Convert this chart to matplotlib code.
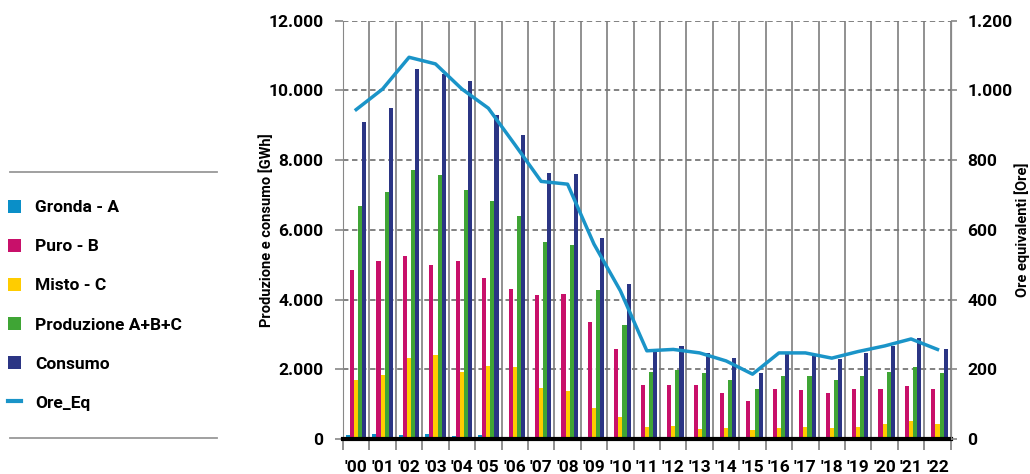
import numpy as np
import matplotlib
matplotlib.use("Agg")
import matplotlib.pyplot as plt
from matplotlib.patches import Patch
from matplotlib.lines import Line2D
from matplotlib.ticker import FuncFormatter, FixedLocator

plt.rcParams['font.family'] = ['Roboto', 'DejaVu Sans']
plt.rcParams['font.weight'] = 'bold'
plt.rcParams['axes.labelweight'] = 'bold'

anni = ["'00", "'01", "'02", "'03", "'04", "'05", "'06", "'07", "'08", "'09", "'10", "'11",
        "'12", "'13", "'14", "'15", "'16", "'17", "'18", "'19", "'20", "'21", "'22"]
gronda = [115, 130, 115, 130, 100, 108, 40, 20, 15, 15, 15, 10, 10, 10, 15, 10, 10, 10, 10, 10, 10, 10, 10]
puro = [4855, 5104, 5247, 4998, 5095, 4616, 4292, 4120, 4149, 3355, 2581, 1539,
        1549, 1549, 1319, 1099, 1434, 1415, 1329, 1434, 1434, 1510, 1424]
misto = [1683, 1835, 2323, 2418, 1921, 2084, 2065, 1462, 1376, 880, 631, 344,
         364, 296, 325, 268, 325, 354, 325, 344, 430, 516, 421]
produzione = [6672, 7083, 7713, 7570, 7140, 6834, 6394, 5640, 5572, 4282, 3269, 1921,
              1970, 1884, 1692, 1424, 1806, 1806, 1692, 1816, 1921, 2074, 1884]
consumo = [9099, 9482, 10618, 10457, 10266, 9281, 8708, 7618, 7589, 5763, 4435, 2523,
           2676, 2475, 2314, 1893, 2447, 2447, 2294, 2457, 2657, 2906, 2571]
ore_eq = [945, 1004, 1095, 1076, 1004, 949, 845, 739, 731, 559, 425, 253,
          257, 247, 224, 186, 247, 247, 232, 251, 267, 287, 257]

nomi = ["Gronda - A", "Puro - B", "Misto - C", "Produzione A+B+C", "Consumo"]
colori = ["#0a8fc8", "#c8106a", "#ffcc00", "#3fa535", "#2b3584"]
col_linea = "#1a94c8"

fig = plt.figure(figsize=(10.3, 4.74), dpi=100)
ax = fig.add_axes([0.333, 0.0738, 0.590, 0.8826])

x = np.arange(len(anni))
w = 0.155
serie = [gronda, puro, misto, produzione, consumo]
for i, s in enumerate(serie):
    ax.bar(x + (i - 2) * w, s, width=w, color=colori[i], zorder=3)

migliaia = FuncFormatter(lambda v, p: f"{int(v):,}".replace(",", "."))

ax.set_xlim(-0.5, len(anni) - 0.5)
ax.set_ylim(0, 12000)
ax.set_yticks(np.arange(0, 12001, 2000))
ax.yaxis.set_major_formatter(migliaia)
ax.set_xticks(x)
ax.set_xticklabels(anni)
ax.xaxis.set_minor_locator(FixedLocator(np.arange(-0.5, len(anni), 1)))
ax.tick_params(axis='x', which='major', length=0, pad=15, labelsize=12.5)
ax.tick_params(axis='x', which='minor', length=8, width=1.3, color='#888888')
ax.tick_params(axis='y', length=6, width=1.2, color='#888888', labelsize=12.5, pad=8)
ax.grid(axis='y', which='major', linestyle=(0, (3, 2)), color='#777777', linewidth=1.3)
ax.grid(axis='x', which='minor', linestyle='-', color='#888888', linewidth=1.3)
ax.set_axisbelow(True)
ax.spines['top'].set_visible(False)
ax.spines['left'].set_color('#888888')
ax.spines['right'].set_color('#888888')
ax.spines['bottom'].set_color('black')
ax.spines['bottom'].set_linewidth(3)
ax.spines['bottom'].set_zorder(5)
ax.set_ylabel("Produzione e consumo [GWh]", fontsize=10.5)
ax.yaxis.set_label_coords(-0.113, 0.5)

ax2 = ax.twinx()
ax2.plot(x, ore_eq, color=col_linea, linewidth=2.5, zorder=4)
ax2.set_ylim(0, 1200)
ax2.set_yticks(np.arange(0, 1201, 200))
ax2.yaxis.set_major_formatter(migliaia)
ax2.tick_params(axis='y', length=4, width=1.2, color='#888888', labelsize=12.5, pad=8)
for sp in ['top', 'left', 'bottom']:
    ax2.spines[sp].set_visible(False)
ax2.spines['right'].set_color('#888888')
ax2.set_ylabel("Ore equivalenti [Ore]", fontsize=10.5)
ax2.yaxis.set_label_coords(1.104, 0.5)

handles = [Patch(facecolor=c, edgecolor='none') for c in colori]
handles.append(Line2D([0], [0], color=col_linea, linewidth=3))
fig.legend(handles, nomi + ["Ore_Eq"], loc='upper left', bbox_to_anchor=(0.008, 0.578),
           frameon=False, fontsize=12.5, handlelength=0.75, handleheight=0.75,
           handletextpad=0.8, labelspacing=1.36, borderpad=0, borderaxespad=0)

fig.add_artist(Line2D([0.01, 0.211], [1 - 172 / 474, 1 - 172 / 474], color='#999999', linewidth=1.3))
fig.add_artist(Line2D([0.01, 0.211], [1 - 438 / 474, 1 - 438 / 474], color='#999999', linewidth=1.3))

fig.savefig("out.png", dpi=100)
